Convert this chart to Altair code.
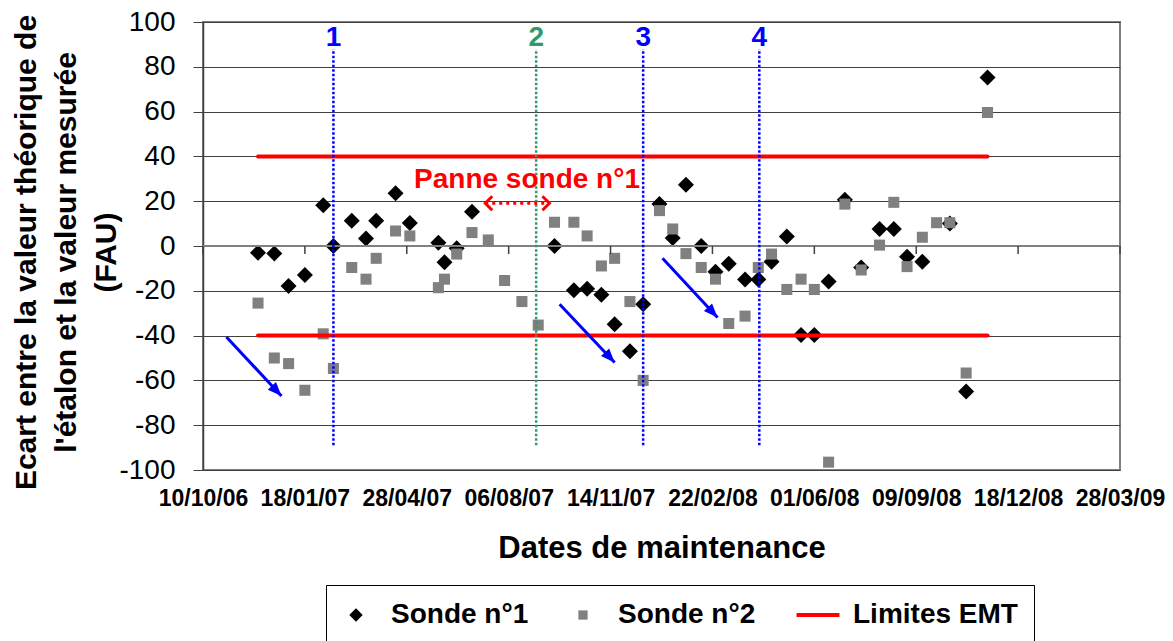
import altair as alt
import pandas as pd

FONT = "Liberation Sans"

# ---- data ----
dates = ["2006-12-03", "2006-12-19", "2007-01-02", "2007-01-18", "2007-02-05", "2007-02-15",
         "2007-03-05", "2007-03-19", "2007-03-29", "2007-04-17", "2007-05-01", "2007-05-29",
         "2007-06-04", "2007-06-16", "2007-07-01", "2007-07-17", "2007-08-02", "2007-08-19",
         "2007-09-04", "2007-09-20", "2007-10-09", "2007-10-22", "2007-11-05", "2007-11-18",
         "2007-12-03", "2007-12-16", "2008-01-01", "2008-01-14", "2008-01-27", "2008-02-11",
         "2008-02-25", "2008-03-09", "2008-03-25", "2008-04-07", "2008-04-20", "2008-05-05",
         "2008-05-19", "2008-06-01", "2008-06-15", "2008-07-01", "2008-07-17", "2008-08-04",
         "2008-08-18", "2008-08-31", "2008-09-15", "2008-09-29", "2008-10-12", "2008-10-28",
         "2008-11-18"]
sonde1 = [-3.0, -3.3, -17.9, -13.0, 18.2, 0.0, 11.3, 3.4, 11.3, 23.6, 10.3, 1.5,
          -7.2, -1.0, 15.3, None, None, None, None, 0.0, -19.7, -19.1, -21.8, -34.9,
          -47.0, -26.0, 18.8, 3.6, 27.3, 0.0, -11.5, -7.9, -14.9, -14.9, -7.0, 4.2,
          -39.7, -39.7, -15.8, 20.6, -9.6, 7.6, 7.6, -4.8, -7.0, None, 10.1, -64.9, 75.2]
sonde2 = [-25.5, -50.0, -52.5, -64.4, -39.2, -54.7, -9.6, -14.8, -5.5, 6.7, 4.5, -18.6,
          -14.8, -3.6, 6.0, 2.7, -15.4, -24.8, -35.3, 10.6, 10.6, 4.5, -8.9, -5.5,
          -24.8, -60.0, 15.8, 7.6, -3.4, -9.6, -14.8, -34.6, -31.3, -9.6, -3.6, -19.4,
          -14.8, -19.4, -96.5, 18.7, -10.7, 0.4, 19.5, -9.2, 3.9, 10.4, 10.4, -56.7, 59.6]

series_names = ["Sonde n°1", "Sonde n°2", "Limites EMT"]
series_colors = ["#000000", "#808080", "#ff0000"]
series_shapes = ["M-1,0L0,-1L1,0L0,1Z",
                 "M-0.69,-0.69H0.69V0.69H-0.69Z",
                 "M-3.2,-0.3H3.2V0.3H-3.2Z"]

limit_values = [40, -40]
limit_start = "2006-12-03"
limit_end = "2008-11-18"

tick_dates = ["2006-10-10", "2007-01-18", "2007-04-28", "2007-08-06", "2007-11-14",
              "2008-02-22", "2008-06-01", "2008-09-09", "2008-12-18", "2009-03-28"]
y_ticks = [-100, -80, -60, -40, -20, 0, 20, 40, 60, 80, 100]
zero_tick_len = -3.6

vline_dates = ["2007-02-15", "2007-09-02", "2007-12-16", "2008-04-08"]
vline_labels = ["1", "2", "3", "4"]
vline_colors = ["#0000ff", "#339966", "#0000ff", "#0000ff"]
vline_bottom = -89
vline_top = 88
vline_label_y = 93

panne_text = ["Panne sonde n°1"]
panne_date = ["2007-08-24"]
panne_y = [29.5]
darrow_start = "2007-07-14"
darrow_end = "2007-09-15"
darrow_y = 19.1

arrow_x1 = ["2006-11-02", "2007-09-25", "2008-01-04"]
arrow_y1 = [-40.6, -26.0, -5.5]
arrow_x2 = ["2006-12-26", "2007-11-18", "2008-02-27"]
arrow_y2 = [-67.0, -52.0, -31.9]
HEAD_PATH = "M0,0L-2,-0.8L-2,0.8Z"


def dt(s):
    y, m, d = (int(p) for p in s.split("-"))
    return alt.DateTime(year=y, month=m, date=d, utc=True)


# ---- tables ----
rows = []
for d, v in zip(dates, sonde1):
    if v is not None:
        rows.append({"date": d, "value": v, "series": series_names[0]})
for d, v in zip(dates, sonde2):
    if v is not None:
        rows.append({"date": d, "value": v, "series": series_names[1]})
pts_df = pd.DataFrame(rows)

lim_df = pd.DataFrame({"start": [limit_start] * len(limit_values),
                       "end": [limit_end] * len(limit_values),
                       "value": limit_values})
zero_df = pd.DataFrame({"start": [tick_dates[0]], "end": [tick_dates[-1]]})
ticks_df = pd.DataFrame({"date": tick_dates})
vl_df = pd.DataFrame({"date": vline_dates, "label": vline_labels, "color": vline_colors})
panne_df = pd.DataFrame({"date": panne_date, "y": panne_y, "text": panne_text})
dar_df = pd.DataFrame({"start": [darrow_start], "end": [darrow_end], "y": [darrow_y]})
chev_df = pd.DataFrame({"date": [darrow_start, darrow_end], "y": [darrow_y, darrow_y],
                        "path": ["M1,-1L0,0L1,1", "M-1,-1L0,0L-1,1"]})
arr_df = pd.DataFrame({"x1": arrow_x1, "y1": arrow_y1, "x2": arrow_x2, "y2": arrow_y2})

# ---- scales & axes ----
x_scale = alt.Scale(type="utc", domain=[dt(tick_dates[0]), dt(tick_dates[-1])])
y_scale = alt.Scale(domain=[-100, 100], nice=False)
tick_vals = [dt(s) for s in tick_dates]

main_x_axis = alt.Axis(orient="bottom", values=tick_vals, format="%d/%m/%y", labelFont=FONT,
                       labelFontSize=23, labelFontWeight="bold", labelColor="black",
                       labelPadding=17, labelOverlap=False, labelFlush=False, labelAngle=0,
                       ticks=False, domain=False, grid=False, title="Dates de maintenance",
                       titleFont=FONT, titleFontSize=31, titleFontWeight="bold",
                       titleColor="black", titleY=78, titleBaseline="middle")
y_axis = alt.Axis(orient="left", values=y_ticks, labelExpr="'' + datum.value", labelFont=FONT,
                  labelFontSize=28, labelColor="black", labelPadding=18, tickSize=10,
                  tickColor="#404040", domainColor="#404040", domainWidth=1.5, grid=True,
                  gridColor="#404040", gridWidth=1,
                  title=["Ecart entre la valeur théorique de",
                         "l'étalon et la valeur mesurée", "(FAU)"],
                  titleFont=FONT, titleFontSize=30, titleFontWeight="bold",
                  titleColor="black", titleLineHeight=40, titleX=-177, titleY=230,
                  titleAngle=270, titleAlign="center", titleBaseline="middle")

X = lambda f: alt.X(f, scale=x_scale)
Y = lambda f: alt.Y(f, scale=y_scale)

# ---- layers ----
points = alt.Chart(pts_df).mark_point(filled=True, size=256, opacity=1, strokeWidth=0).encode(
    x=alt.X("date:T", scale=x_scale, axis=main_x_axis),
    y=alt.Y("value:Q", scale=y_scale, axis=y_axis),
    fill=alt.Fill("series:N", title=None,
                  scale=alt.Scale(domain=series_names, range=series_colors)),
    shape=alt.Shape("series:N", title=None,
                    scale=alt.Scale(domain=series_names, range=series_shapes)),
)

zero_line = alt.Chart(zero_df).mark_rule(color="#808080", strokeWidth=2).encode(
    x=X("start:T"), x2="end:T", y=alt.YDatum(0),
)
zero_ticks = alt.Chart(ticks_df).mark_rule(color="#404040", strokeWidth=1.5).encode(
    x=X("date:T"), y=alt.YDatum(0), y2=alt.Y2Datum(zero_tick_len),
)

limits = alt.Chart(lim_df).mark_rule(color="#ff0000", strokeWidth=4, strokeCap="round").encode(
    x=X("start:T"), x2="end:T", y=Y("value:Q"),
)

vlines = alt.Chart(vl_df).mark_rule(strokeWidth=2.5, strokeDash=[2.5, 2]).encode(
    x=X("date:T"),
    y=alt.YDatum(vline_bottom),
    y2=alt.Y2Datum(vline_top),
    color=alt.Color("color:N", scale=None),
)

vlabels = alt.Chart(vl_df).mark_text(font=FONT, fontSize=28, fontWeight="bold",
                                     baseline="middle", align="center").encode(
    x=X("date:T"),
    y=alt.YDatum(vline_label_y),
    text="label:N",
    color=alt.Color("color:N", scale=None),
)

panne = alt.Chart(panne_df).mark_text(font=FONT, fontSize=28, fontWeight="bold",
                                      color="#ff0000", baseline="middle", align="center").encode(
    x=X("date:T"), y=Y("y:Q"), text="text:N",
)

darrow = alt.Chart(dar_df).mark_rule(color="#ff0000", strokeWidth=3, strokeDash=[3, 4]).encode(
    x=X("start:T"), x2="end:T", y=Y("y:Q"),
)

chevrons = alt.Chart(chev_df).mark_point(filled=False, color="#ff0000", strokeWidth=3,
                                         size=196, opacity=1).encode(
    x=X("date:T"), y=Y("y:Q"), shape=alt.Shape("path:N", scale=None),
)

arrows = alt.Chart(arr_df).mark_rule(color="#0000ff", strokeWidth=3).encode(
    x=X("x1:T"), x2="x2:T", y=Y("y1:Q"), y2="y2:Q",
)

heads = alt.Chart(arr_df).mark_point(filled=True, color="#0000ff", size=196, opacity=1,
                                     shape=HEAD_PATH, angle=47, strokeWidth=0).encode(
    x=X("x2:T"), y=Y("y2:Q"),
)

chart = alt.layer(points, zero_line, zero_ticks, limits, vlines, vlabels, panne, darrow,
                  chevrons, arrows, heads).properties(
    width=917, height=448,
    autosize=alt.AutoSizeParams(type="none"),
    padding={"left": 195, "top": 14, "right": 45, "bottom": 171},
    background="white",
).configure_view(
    stroke="#808080", strokeWidth=2
).configure_legend(
    orient="none", legendX=123, legendY=563, direction="horizontal", columns=3,
    strokeColor="black", fillColor="white", padding=16, columnPadding=40,
    labelFont=FONT, labelFontSize=28, labelFontWeight="bold", labelColor="black",
    labelOffset=21, labelLimit=400, symbolSize=180, symbolStrokeWidth=0,
)

chart.save("out.html", embed_options={"renderer": "svg", "actions": False})
